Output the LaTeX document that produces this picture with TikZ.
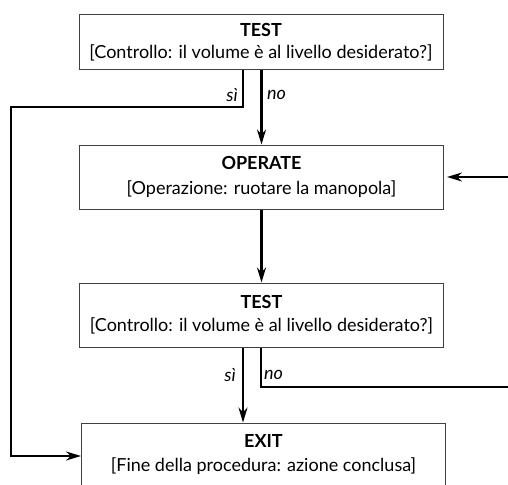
\documentclass[tikz,border=0pt]{standalone}
\usepackage{fontspec}
\setmainfont{Lato}
\usetikzlibrary{arrows.meta,positioning}

\begin{document}
\begin{tikzpicture}[x=1pt, y=-1pt,
    box/.style={draw=black!75, line width=1pt, minimum width=364pt, align=center, inner sep=0pt, font=\fontsize{18}{21}\selectfont},
    flow/.style={line width=2.2pt, -{Stealth[length=15pt,width=9pt]}},
    lbl/.style={font=\fontsize{18}{21}\selectfont\itshape, inner sep=1pt}]
    \useasboundingbox (0,0) rectangle (508,484);
    \clip (0,0) rectangle (508,484);
    % the boxes
    \node[box, minimum height=55pt] (test1) at (261,42.5) {\textbf{TEST}\\[1pt]{[}Controllo: il volume è al livello desiderato?]};
    \node[box, minimum height=64pt] (oper) at (261.5,177) {\textbf{OPERATE}\\[4pt]{[}Operazione: ruotare la manopola]};
    \node[box, minimum height=64pt] (test2) at (261.5,315) {\textbf{TEST}\\[2pt]{[}Controllo: il volume è al livello desiderato?]};
    \node[box, minimum height=64pt] (exit) at (263.5,455) {\textbf{EXIT}\\[3pt]{[}Fine della procedura: azione conclusa]};
    % corners of the connectors
    \coordinate (si1) at (243,107);
    \coordinate (back) at (11,107);
    \coordinate (low) at (11,456);
    \coordinate (inop) at (508,177);
    \coordinate (si2) at (243,380);
    \coordinate (no2) at (261,387);
    \coordinate (out2) at (508,387);
    % connectors
    \draw[flow] (test1.south -| si1) -- (si1) -- (back) -- (low) -- (low -| exit.west);
    \draw[flow] (test1.south -| oper.north) -- (oper.north);
    \draw[flow, shorten >=3pt] (inop) -- (oper.east);
    \draw[flow] (oper.south) -- (test2.north);
    \draw[flow] (test2.south -| si2) -- (exit.north -| si2);
    \draw[line width=2.2pt] (test2.south -| no2) -- (no2) -- (out2);
    % labels
    \node[lbl, anchor=east] (sia) at (239,95) {sì};
    \node[lbl, anchor=west] (noa) at (266,95) {no};
    \node[lbl, anchor=east] (sib) at (237,375) {sì};
    \node[lbl, anchor=west] (nob) at (263,375) {no};
\end{tikzpicture}
\end{document}
